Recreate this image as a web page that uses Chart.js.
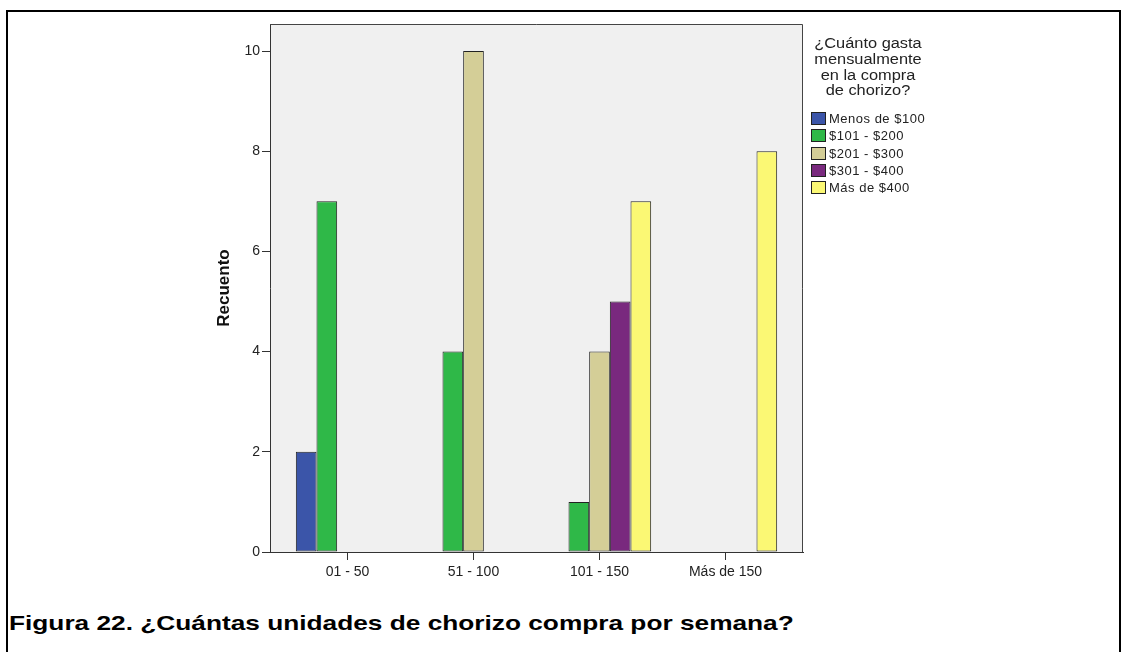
<!DOCTYPE html>
<html lang="es">
<head>
<meta charset="utf-8">
<title>Unidades de chorizo por semana</title>
<script src="https://cdn.jsdelivr.net/npm/chart.js@4.4.1/dist/chart.umd.min.js"></script>
<style>
  html, body { margin: 0; padding: 0; background: #fff; }
  body { width: 1124px; height: 652px; position: relative; overflow: hidden;
         font-family: "Liberation Sans", Arial, sans-serif; }
  #frame { position: absolute; left: 6px; top: 10px; width: 1115px; height: 660px;
           border: 2px solid #000; box-sizing: border-box; }
  #chart { position: absolute; left: 0; top: 0; }
  #legend { position: absolute; left: 806px; top: 0; width: 130px; color: #222; }
  #legend .title { position: absolute; left: 0; top: 36px; width: 124px; text-align: center;
                   font-size: 14px; line-height: 15.8px; transform: scaleX(1.17);
                   transform-origin: 62px 0; }
  #legend .item { position: absolute; left: 5px; height: 17px; white-space: nowrap;
                  font-size: 13px; line-height: 17px; letter-spacing: 0.5px; }
  #legend .box { display: inline-block; width: 13px; height: 11px; border: 1px solid #222;
                 vertical-align: -2px; margin-right: 3px; }
  #caption { position: absolute; left: 9px; top: 611px; font-weight: bold; font-size: 21px;
             color: #000; white-space: nowrap; transform: scaleX(1.25); transform-origin: 0 0; }
</style>
</head>
<body>
<div id="frame"></div>
<canvas id="chart" width="1124" height="600"></canvas>
<div id="legend"></div>
<div id="caption">Figura 22. ¿Cuántas unidades de chorizo compra por semana?</div>
<script>
// Weekly units bought (x groups) and monthly spend (series)
const categories = ['01 - 50', '51 - 100', '101 - 150', 'Más de 150'];
const seriesNames = ['Menos de $100', '$101 - $200', '$201 - $300', '$301 - $400', 'Más de $400'];
const menos100 = [2, null, null, null];
const de101a200 = [7, 4, 1, null];
const de201a300 = [null, 10, 4, null];
const de301a400 = [null, null, 5, null];
const mas400 = [null, null, 7, 8];
const yTicks = [0, 2, 4, 6, 8, 10];
const legendTitle = ['¿Cuánto gasta', 'mensualmente', 'en la compra', 'de chorizo?'];

const seriesValues = [menos100, de101a200, de201a300, de301a400, mas400];
const colors = ['#3b55a9', '#2fb848', '#d4ce97', '#79297e', '#fbf874'];

const datasets = seriesValues.map((vals, s) => ({
  label: seriesNames[s],
  data: vals.map((v, i) => ({ x: i, y: v })),
  backgroundColor: colors[s],
  borderColor: '#222',
  borderWidth: 1,
  borderSkipped: false,
  categoryPercentage: 0.82,
  barPercentage: 1
}));

// grey plot panel with a thin frame
const plotPanel = {
  id: 'plotPanel',
  beforeDraw(chart) {
    const { ctx, chartArea: a } = chart;
    ctx.save();
    ctx.fillStyle = '#f0f0f0';
    ctx.fillRect(a.left, a.top, a.right - a.left, a.bottom - a.top);
    ctx.restore();
  },
  afterDraw(chart) {
    const { ctx, chartArea: a } = chart;
    ctx.save();
    ctx.strokeStyle = '#444';
    ctx.lineWidth = 1;
    ctx.beginPath();
    ctx.moveTo(a.left, a.top + 0.5);
    ctx.lineTo(a.right - 0.5, a.top + 0.5);
    ctx.lineTo(a.right - 0.5, a.bottom);
    ctx.stroke();
    ctx.restore();
  }
};

const font = { family: '"Liberation Sans", Arial, sans-serif', size: 14 };

const chart = new Chart(document.getElementById('chart'), {
  type: 'bar',
  data: { datasets },
  plugins: [plotPanel],
  options: {
    responsive: false,
    animation: false,
    layout: { padding: { left: 213, right: 321, top: 24, bottom: 0 } },
    plugins: { legend: { display: false }, tooltip: { enabled: false } },
    scales: {
      x: {
        type: 'linear',
        offset: false,
        min: -0.615,
        max: 3.615,
        afterBuildTicks: (axis) => { axis.ticks = categories.map((c, i) => ({ value: i })); },
        afterFit: (axis) => { axis.height = 48; },
        ticks: {
          callback: (v) => categories[v],
          color: '#222',
          font,
          padding: 4,
          maxRotation: 0,
          autoSkip: false
        },
        grid: { offset: false, drawOnChartArea: false, drawTicks: true, tickLength: 8, color: '#333' },
        border: { display: true, color: '#333', width: 1 }
      },
      y: {
        min: 0,
        max: 10.54,
        afterBuildTicks: (axis) => { axis.ticks = yTicks.map(v => ({ value: v })); },
        afterFit: (axis) => { axis.width = 57; },
        ticks: { color: '#222', font, padding: 2 },
        grid: { drawOnChartArea: false, drawTicks: true, tickLength: 8, color: '#333' },
        border: { display: true, color: '#333', width: 1 },
        title: {
          display: true,
          text: 'Recuento',
          color: '#111',
          font: { family: font.family, size: 17, weight: 'bold' },
          padding: { top: 1, bottom: 0 }
        }
      }
    }
  }
});

// legend built from the chart's datasets
const legend = document.getElementById('legend');
const title = document.createElement('div');
title.className = 'title';
title.innerHTML = legendTitle.join('<br>');
legend.appendChild(title);
chart.data.datasets.forEach((ds, i) => {
  const item = document.createElement('div');
  item.className = 'item';
  item.style.top = (110 + i * 17.3) + 'px';
  const box = document.createElement('span');
  box.className = 'box';
  box.style.background = ds.backgroundColor;
  item.appendChild(box);
  item.appendChild(document.createTextNode(ds.label));
  legend.appendChild(item);
});
</script>
</body>
</html>
